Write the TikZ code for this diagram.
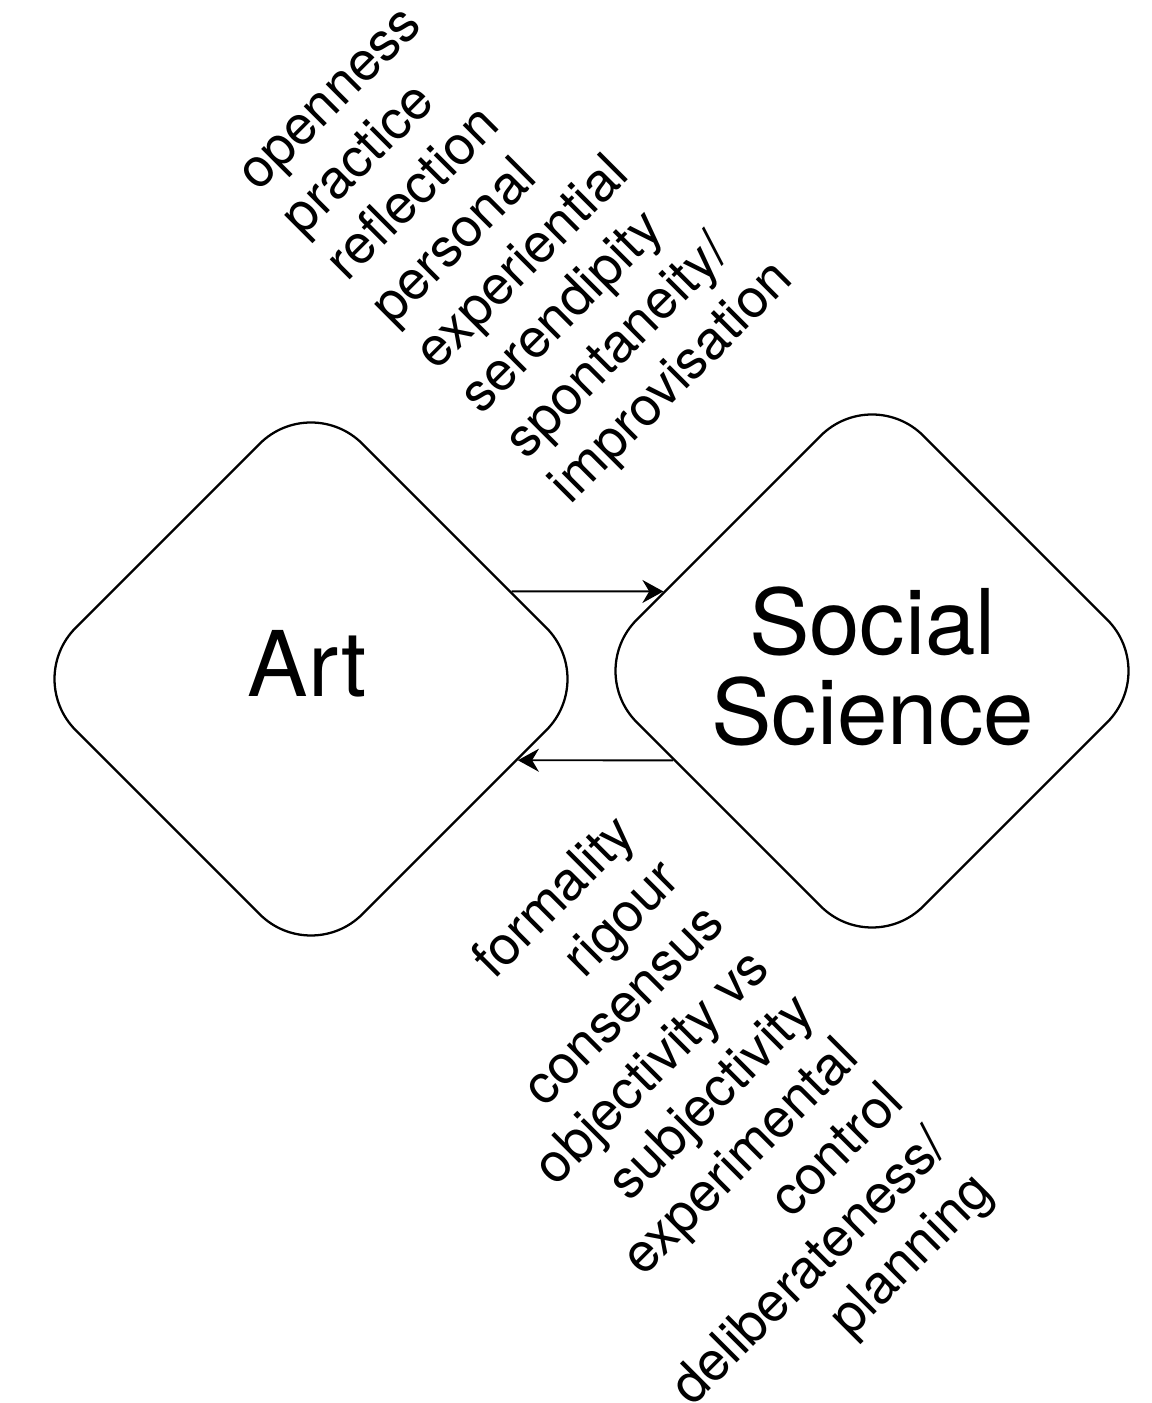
\documentclass[tikz,border=0pt]{standalone}
\usepackage{fontspec}
\setmainfont{TeX Gyre Heros}
\usepackage{tikz}
\usetikzlibrary{calc}
\usetikzlibrary{shapes.geometric}
\usetikzlibrary{arrows.meta}
\tikzset{field/.style={diamond, draw, line width=1.3pt, rounded corners=1.45cm, minimum width=11.48cm, minimum height=11.48cm, inner sep=0pt},
  bigword/.style={font=\fontsize{51.6}{51.2}\selectfont, align=center, inner sep=0pt},
  smallword/.style={font=\fontsize{30.7}{36}\selectfont, rotate=45, inner sep=0pt},
  flow/.style={line width=1.1pt, -{Stealth[length=0.42cm, width=0.46cm]}}}

\begin{document}
\begin{tikzpicture}
        \useasboundingbox (0,0) rectangle (23.04,28.06);
        %the two fields
        \node[field] (art) at (6.22,14.48) {};
        \node[field] (soc) at (17.44,14.64) {};
        \node[bigword, anchor=base] (arttext) at ($(art.center)+(-0.08,-0.36)$) {Art};
        \node[bigword] (soctext) at ($(soc.center)+(0.01,0.1)$) {Social\\Science};
        %exchange
        \draw[flow] ($(art.east)!0.304!(art.north)$) -- ($(soc.west)!0.276!(soc.north)$);
        \draw[flow] ($(soc.west)!0.31!(soc.south)$) -- ($(art.east)!0.282!(art.south)$);
        %what art brings
        \foreach \word [count=\i from 0] in {openness, practice, reflection, personal, experiential, serendipity, spontaneity/, improvisation} {
        \node[smallword, anchor=base west] (artword\i) at ($(5.16,24.2)+\i*(0.893,-0.893)$) {\word};}
        %what social science brings
        \foreach \word [count=\i from 0] in {formality, rigour, consensus, objectivity vs, subjectivity, experimental, control, deliberateness/, planning} {
        \node[smallword, anchor=base east] (socword\i) at ($(12.76,11.32)+\i*(0.893,-0.893)$) {\word};}
\end{tikzpicture}
\end{document}
